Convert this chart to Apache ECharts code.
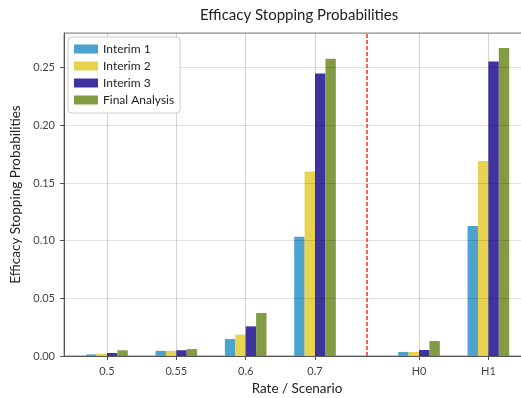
<!DOCTYPE html>
<html>
<head>
<meta charset="utf-8">
<script src="https://cdn.jsdelivr.net/npm/echarts@6/dist/echarts.min.js"></script>
<style>
html,body{margin:0;padding:0;background:#fff;}
#chart{width:521px;height:398px;}
</style>
</head>
<body>
<div id="chart"></div>
<script>
// ---- data ----
const categories = ['0.5', '0.55', '0.6', '0.7', 'H0', 'H1'];
const catPos = [0, 1, 2, 3, 4.5, 5.5];
const seriesNames = ['Interim 1', 'Interim 2', 'Interim 3', 'Final Analysis'];
const interim1 = [0.0014, 0.0045, 0.0147, 0.1034, 0.0035, 0.1127];
const interim2 = [0.0020, 0.0045, 0.0185, 0.1600, 0.0035, 0.1690];
const interim3 = [0.0026, 0.0050, 0.0257, 0.2450, 0.0052, 0.2553];
const finalAnalysis = [0.0050, 0.0060, 0.0373, 0.2577, 0.0130, 0.2669];
const dividerAt = 3.75;
const yTicks = [0, 0.05, 0.10, 0.15, 0.20, 0.25];

// ---- styles ----
const colors = ['#449dcb', '#e6d144', '#35299a', '#7d963b'];
const FONT = 'Lato';
const allValues = [interim1, interim2, interim3, finalAnalysis];

const chart = echarts.init(document.getElementById('chart'), null, {renderer: 'canvas'});

const series = allValues.map((vals, si) => ({
  name: seriesNames[si],
  type: 'bar',
  data: catPos.map((x, i) => [x, vals[i]]),
  barWidth: '15%',
  barGap: '0%',
  itemStyle: {color: colors[si], opacity: 0.95},
  emphasis: {disabled: true}
}));

// divider line drawn on an empty helper series so the bar offset does not shift it
series.push({
  name: 'divider',
  type: 'line',
  data: [],
  silent: true,
  z: 4,
  markLine: {
    silent: true,
    symbol: ['none', 'none'],
    label: {show: false},
    lineStyle: {color: '#ff3838', type: [4, 2], width: 1.6, opacity: 1},
    data: [{xAxis: dividerAt}]
  }
});

chart.setOption({
  animation: false,
  backgroundColor: '#ffffff',
  textStyle: {fontFamily: FONT},
  title: {
    text: 'Efficacy Stopping Probabilities',
    left: 195,
    top: 3,
    textStyle: {fontFamily: FONT, fontSize: 15, fontWeight: 'normal', color: '#222'}
  },
  legend: {
    orient: 'vertical',
    left: 68,
    top: 37,
    itemWidth: 24,
    itemHeight: 9,
    itemGap: 5,
    padding: [6, 6, 7, 6],
    backgroundColor: '#ffffff',
    borderColor: '#cccccc',
    borderWidth: 1,
    borderRadius: 4,
    icon: 'rect',
    data: seriesNames,
    textStyle: {fontFamily: FONT, fontSize: 12, color: '#222'}
  },
  grid: {
    left: 64,
    top: 33,
    width: 466,
    height: 323,
    show: true,
    borderColor: '#888',
    borderWidth: 1,
    containLabel: false,
    outerBoundsMode: 'none'
  },
  xAxis: {
    type: 'value',
    min: -0.62,
    max: 6.1,
    z: 3,
    name: 'Rate / Scenario',
    nameLocation: 'middle',
    nameGap: 26,
    nameTextStyle: {fontFamily: FONT, fontSize: 13.5, color: '#222'},
    axisLine: {show: true, onZero: false, lineStyle: {color: '#555', width: 1}},
    axisTick: {show: true, length: 4, customValues: catPos, lineStyle: {color: '#555'}},
    axisLabel: {
      customValues: catPos,
      fontFamily: FONT, fontSize: 11, color: '#444', margin: 10,
      formatter: v => {
        const i = catPos.indexOf(v);
        return i >= 0 ? categories[i] : '';
      }
    },
    splitLine: {show: true, lineStyle: {color: 'rgba(0,0,0,0.17)', width: 1}}
  },
  yAxis: {
    type: 'value',
    min: 0,
    max: 0.28,
    interval: 0.05,
    z: 3,
    name: 'Efficacy Stopping Probabilities',
    nameLocation: 'middle',
    nameGap: 39,
    nameTextStyle: {fontFamily: FONT, fontSize: 13.5, color: '#222'},
    axisLine: {show: true, onZero: false, lineStyle: {color: '#555', width: 1}},
    axisTick: {show: true, length: 4, lineStyle: {color: '#555'}},
    axisLabel: {
      fontFamily: FONT, fontSize: 11, color: '#444', margin: 9,
      showMaxLabel: false,
      formatter: v => yTicks.some(t => Math.abs(t - v) < 1e-9) ? v.toFixed(2) : ''
    },
    splitLine: {show: true, lineStyle: {color: 'rgba(0,0,0,0.12)', width: 1}}
  },
  series: series
});
</script>
</body>
</html>
